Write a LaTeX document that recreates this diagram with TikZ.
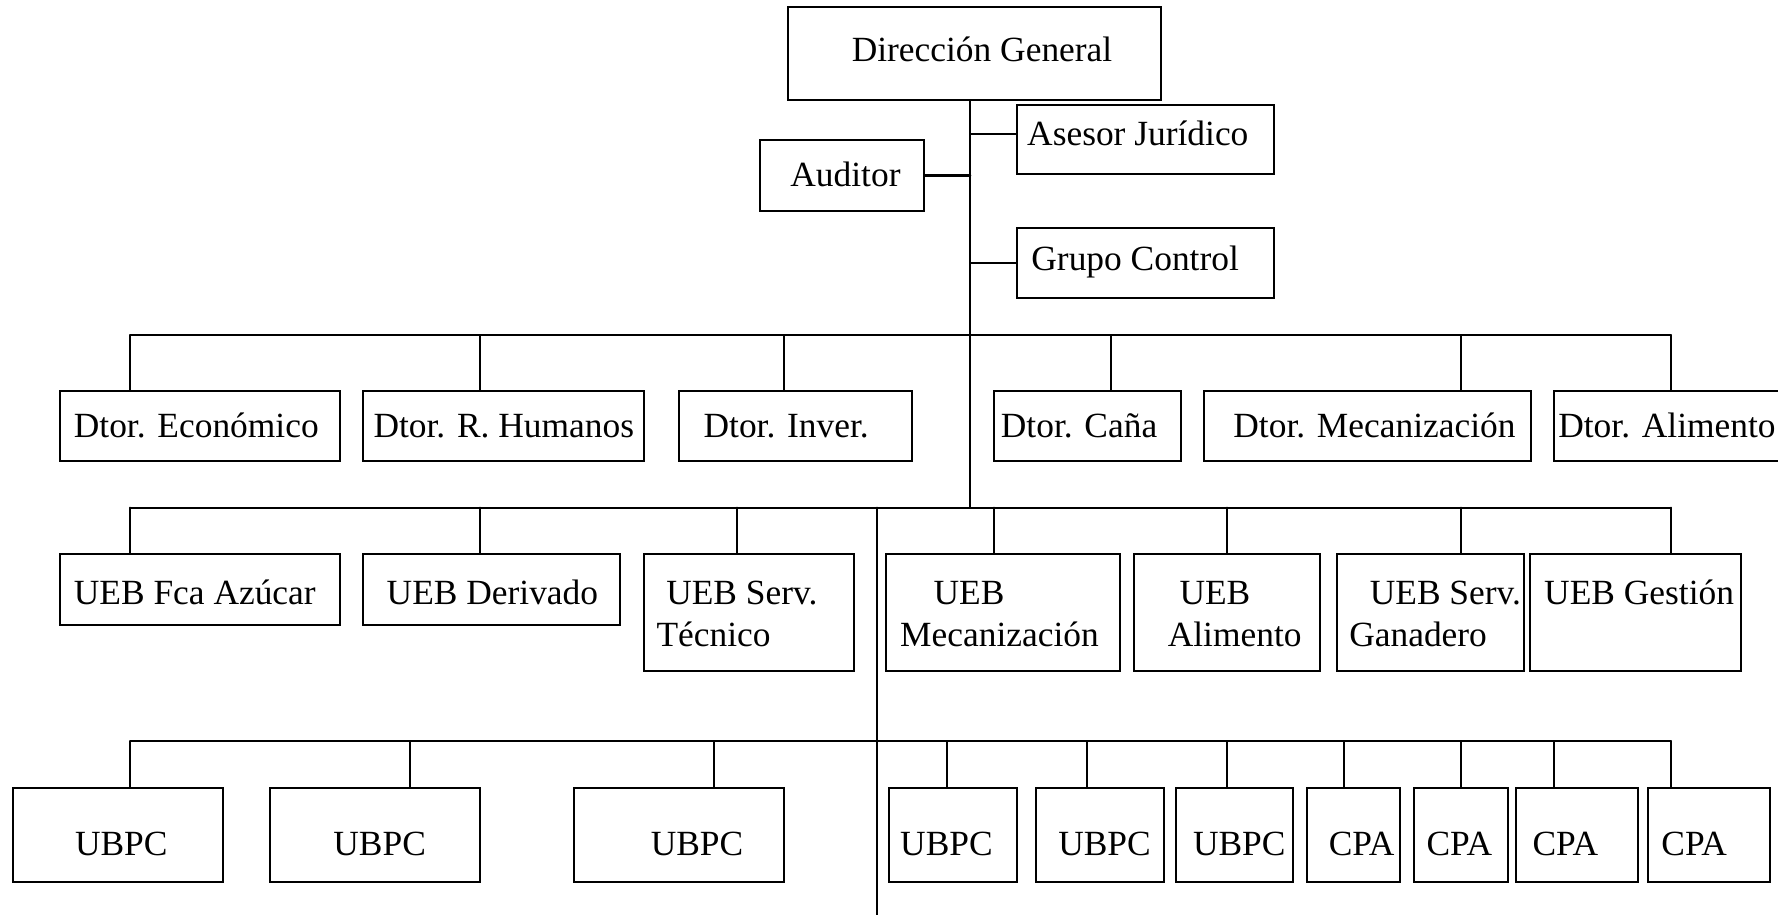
\documentclass[tikz,border=0pt]{standalone}
\usepackage{fontspec}
\setmainfont{Liberation Serif}
\usetikzlibrary{fit}

\begin{document}
\begin{tikzpicture}[line cap=round,line join=miter,x=0.5pt,y=-0.5pt,
	caja/.style={draw,line width=1pt,inner sep=0pt},
	txt/.style={anchor=base west,inner sep=0pt,font=\fontsize{17.7pt}{21pt}\selectfont},
	rama/.style={line width=1pt}]
			\clip (0,0) rectangle (1778,915);
			% cajas
			\foreach \n/\xa/\ya/\xb/\yb in {dg/787.5/6.7/1161.4/100, ase/1016.8/105/1274.3/174.3, aud/759.6/140.3/923.9/210.7, gc/1016.8/227.7/1274.3/297.7,
				eco/59.7/391/339.8/461.3, rh/363.4/391/643.5/461.3, inv/678.5/391/912/461.3, cana/993.5/391/1180.8/461.3, dmec/1203.7/391/1531/461.3, dali/1553.8/391/1800/461.3,
				fca/59.7/554.3/339.8/624.7, der/363.4/554.3/620/624.7, tec/643.5/554.3/854.2/671, umec/886.3/554.3/1120/671, ualim/1134/554.3/1320.2/671, gan/1337.2/554.3/1523.9/671, ges/1530.4/554.3/1741.1/671,
				ua/12.6/787.7/223.3/881.7, ub/269.8/787.7/479.9/881.7, uc/573.5/787.7/784.2/881.7, ud/889.3/787.7/1016.9/881.7, ue/1035.6/787.7/1164.4/881.7, uf/1175.6/787.7/1293.3/881.7,
				ca/1306.7/787.7/1399.8/881.7, cb/1413.9/787.7/1507.5/881.7, cc/1516.3/787.7/1638.1/881.7, cd/1647.5/787.7/1770.4/881.7}
				\node[caja,fit={(\xa,\ya) (\xb,\yb)}] (\n) {};
			% textos
			\foreach \n/\x/\y/\t in {dg/851.4/61.7/Dirección General, ase/1026.8/145.7/Asesor Jurídico, aud/790/186.7/Auditor, gc/1031/270/Grupo Control,
				eco/73.5/437.3/Dtor. Económico, rh/373.1/437.3/Dtor. R. Humanos, inv/703.2/437.3/Dtor. Inver., cana/1000.5/437.3/Dtor. Caña, dmec/1233/437.3/Dtor. Mecanización, dali/1557.9/437.3/Dtor. Alimento,
				fca/73.5/604.3/UEB Fca Azúcar, der/386.3/604.3/UEB Derivado, tec/665.9/604.3/UEB Serv., tec2/656.1/646.7/Técnico,
				umec/933.2/604.3/UEB, umec2/899.8/646.7/Mecanización, ualim/1179.1/604.3/UEB, ualim2/1167.4/646.7/Alimento,
				gan/1369.4/604.3/UEB Serv., gan2/1348.9/646.7/Ganadero, ges/1543.8/604.3/UEB Gestión,
				ua/74.6/855/UBPC, ub/333/855/UBPC, uc/650.4/855/UBPC, ud/899.8/855/UBPC, ue/1057.9/855/UBPC, uf/1192.6/855/UBPC,
				ca/1328.4/855/CPA, cb/1426.2/855/CPA, cc/1532.1/855/CPA, cd/1661/855/CPA}
				\node[txt] (\n-t) at (\x,\y) {\t};
			% tronco
			\coordinate (t1) at (970.4,335);
			\coordinate (t2) at (970.4,507.7);
			\coordinate (s1) at (877,507.7);
			\coordinate (s2) at (877,915);
			\draw [rama] (dg.south -| t1)-- (t2);
			\draw [rama] (aud.east)-- (aud.east -| t1);
			\draw [rama] ([yshift=2.8pt]ase.west)-- ([yshift=2.8pt]ase.west -| t1);
			\draw [rama] (gc.west)-- (gc.west -| t1);
			\draw [rama] (s1)-- (s2);
			% barras
			\draw [rama] (130.3,335)-- (1670.9,335);
			\draw [rama] (130.3,507.7)-- (1670.9,507.7);
			\draw [rama] (130.3,741)-- (1670.9,741);
			\foreach \n/\x in {eco/130.3, rh/479.9, inv/783.6, cana/1110.6, dmec/1460.7, dali/1670.9}
				\draw [rama] (\x,335)-- (\x,0 |- \n.north);
			\foreach \n/\x in {fca/130.3, der/479.9, tec/737.1, umec/993.5, ualim/1227.1, gan/1460.7, ges/1670.9}
				\draw [rama] (\x,507.7)-- (\x,0 |- \n.north);
			\foreach \n/\x in {ua/130.3, ub/409.9, uc/713.6, ud/946.6, ue/1087.2, uf/1227.1, ca/1343.6, cb/1460.7, cc/1554.4, cd/1670.9}
				\draw [rama] (\x,741)-- (\x,0 |- \n.north);
		\end{tikzpicture}
\end{document}
